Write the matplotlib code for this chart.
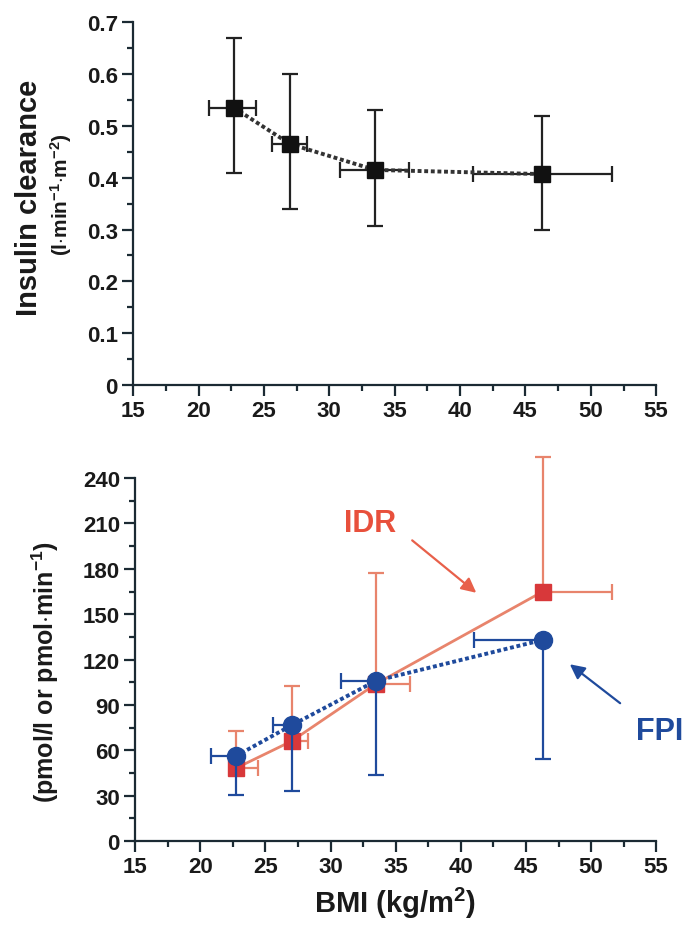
import matplotlib
matplotlib.use("Agg")
import matplotlib.pyplot as plt
from matplotlib.ticker import MultipleLocator

plt.rcParams['font.family'] = ['Liberation Sans', 'DejaVu Sans']
plt.rcParams['font.weight'] = 'bold'
plt.rcParams['xtick.labelsize'] = 16
plt.rcParams['ytick.labelsize'] = 16
plt.rcParams['mathtext.fontset'] = 'custom'
plt.rcParams['mathtext.rm'] = 'Liberation Sans:bold'
plt.rcParams['mathtext.default'] = 'rm'

# BMI groups (mean, lower and upper ends of x error bars)
bmi = [22.7, 27.0, 33.5, 46.3]
bmi_lo = [20.8, 25.6, 30.8, 41.0]
bmi_hi = [24.4, 28.3, 36.1, 51.6]

# insulin clearance
clearance = [0.535, 0.465, 0.415, 0.407]
clear_lo = [0.41, 0.34, 0.307, 0.300]
clear_hi = [0.67, 0.60, 0.53, 0.52]

# insulin delivery rate (upper bars) and fasting plasma insulin (lower bars)
idr = [48, 66, 104, 165]
idr_hi = [72.5, 102.5, 177, 254]
fpi = [56, 76.5, 106, 133]
fpi_lo = [30.5, 33, 43.5, 54.5]

ink = '#1b2a33'
red = '#d8383a'
red_line = '#e8846c'
blue = '#1f4a9c'

fig = plt.figure(figsize=(6.9, 9.28), dpi=100)
ax1 = fig.add_axes([0.193, 0.584, 0.758, 0.391])
ax2 = fig.add_axes([0.196, 0.0927, 0.755, 0.391])

for ax in (ax1, ax2):
    for s in ('top', 'right'):
        ax.spines[s].set_visible(False)
    for s in ('left', 'bottom'):
        ax.spines[s].set_linewidth(1.6)
        ax.spines[s].set_color(ink)
    ax.tick_params(which='major', length=8, width=1.6, color=ink,
                   labelsize=16, labelcolor='#1a1a1a', pad=3)
    ax.tick_params(which='minor', length=4.5, width=1.6, color=ink)
    ax.set_xlim(15, 55)
    ax.xaxis.set_major_locator(MultipleLocator(5))
    ax.xaxis.set_minor_locator(MultipleLocator(2.5))

# top panel
xe = [[m - l for m, l in zip(bmi, bmi_lo)], [h - m for m, h in zip(bmi, bmi_hi)]]
ye = [[m - l for m, l in zip(clearance, clear_lo)], [h - m for m, h in zip(clearance, clear_hi)]]
ax1.errorbar(bmi, clearance, xerr=xe, yerr=ye, fmt='none', ecolor='#222222',
             elinewidth=1.6, capsize=6, capthick=1.6, zorder=2)
ax1.plot(bmi, clearance, ls=(0, (1, 0.7)), lw=2.8, color='#333333', zorder=3)
ax1.plot(bmi, clearance, ls='none', marker='s', ms=12, color='#111111', zorder=4)
ax1.set_ylim(0, 0.7)
ax1.yaxis.set_major_locator(MultipleLocator(0.1))
ax1.yaxis.set_minor_locator(MultipleLocator(0.05))
ax1.yaxis.set_major_formatter(lambda v, pos: '0' if abs(v) < 1e-9 else f'{v:.1f}')

# bottom panel
idr_err = [[0] * 4, [h - m for m, h in zip(idr, idr_hi)]]
idr_xerr = [[0] * 4, [h - m for m, h in zip(bmi, bmi_hi)]]
fpi_err = [[m - l for m, l in zip(fpi, fpi_lo)], [0] * 4]
fpi_xerr = [[m - l for m, l in zip(bmi, bmi_lo)], [0] * 4]

c = ax2.errorbar(bmi, idr, xerr=idr_xerr, yerr=idr_err, fmt='none', ecolor=red_line,
                 elinewidth=1.6, capsize=6, capthick=1.6, zorder=2)
for art in c.get_children():
    art.set_clip_on(False)
ax2.plot(bmi, idr, color=red_line, lw=2, zorder=3)
ax2.plot(bmi, idr, ls='none', marker='s', ms=12, color=red, zorder=4)

c = ax2.errorbar(bmi, fpi, xerr=fpi_xerr, yerr=fpi_err, fmt='none', ecolor=blue,
                 elinewidth=1.6, capsize=6, capthick=1.6, zorder=5)
ax2.plot(bmi, fpi, ls=(0, (1, 0.7)), lw=2.8, color=blue, zorder=6)
ax2.plot(bmi, fpi, ls='none', marker='o', ms=13, color=blue, zorder=7)

ax2.set_ylim(0, 240)
ax2.yaxis.set_major_locator(MultipleLocator(30))
ax2.yaxis.set_minor_locator(MultipleLocator(15))

ax2.annotate('', xy=(41.35, 163), xytext=(36.1, 200),
             arrowprops=dict(arrowstyle='-|>', color='#e8604a', lw=1.6,
                             mutation_scale=22))
ax2.text(33.0, 210, 'IDR', color='#e8503c', fontsize=22, fontweight='bold',
         ha='center', va='center')
ax2.annotate('', xy=(48.2, 118), xytext=(52.4, 90),
             arrowprops=dict(arrowstyle='-|>', color=blue, lw=1.6,
                             mutation_scale=22))
ax2.text(55.3, 73, 'FPI', color=blue, fontsize=22, fontweight='bold',
         ha='center', va='center', clip_on=False)

# labels
fig.text(0.042, 0.787, 'Insulin clearance', rotation=90, fontsize=21,
         fontweight='bold', color='#1a1a1a', ha='center', va='center')
fig.text(0.089, 0.79, r'(l$\cdot$min$^{-1}$$\cdot$m$^{-2}$)', rotation=90, fontsize=15,
         fontweight='bold', color='#1a1a1a', ha='center', va='center')
fig.text(0.066, 0.276, r'(pmol/l or pmol$\cdot$min$^{-1}$)', rotation=90, fontsize=18,
         fontweight='bold', color='#1a1a1a', ha='center', va='center')
fig.text(0.572, 0.026, r'BMI (kg/m$^{2}$)', fontsize=21, fontweight='bold',
         color='#1a1a1a', ha='center', va='center')

fig.savefig('out.png', dpi=100)
